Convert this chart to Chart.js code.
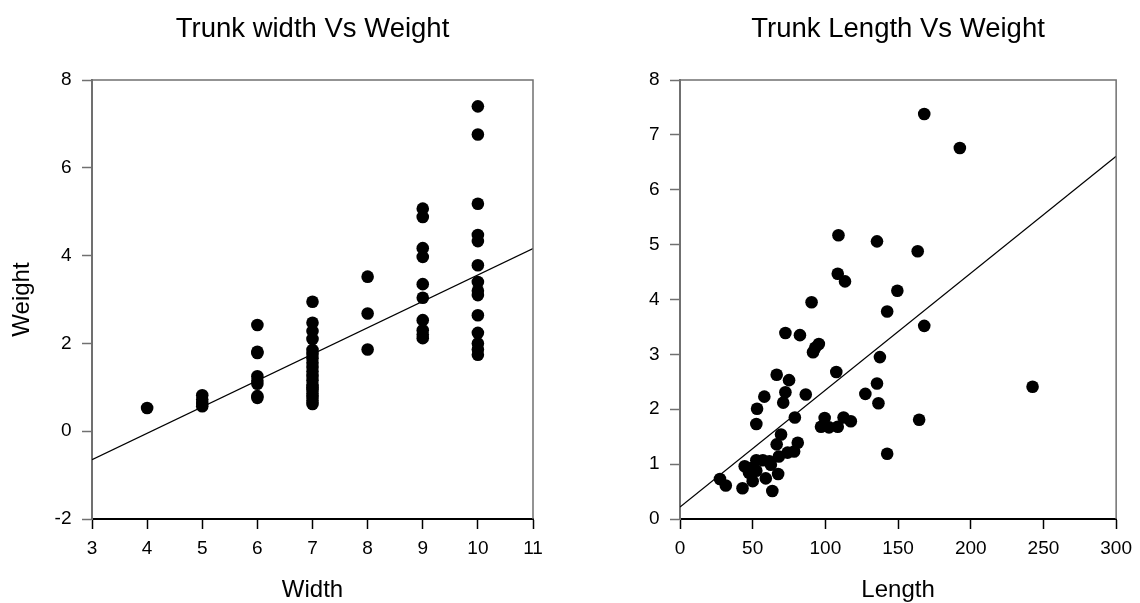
<!DOCTYPE html>
<html>
<head>
<meta charset="utf-8">
<script src="https://cdn.jsdelivr.net/npm/chart.js@4"></script>
<style>
  body { margin: 0; background: #fff; }
  .panel { position: absolute; top: 0; width: 570px; height: 603px; }
  #left-panel { left: 0; }
  #right-panel { left: 570px; }
</style>
</head>
<body>
<div class="panel" id="left-panel"><canvas id="widthChart" width="570" height="603"></canvas></div>
<div class="panel" id="right-panel"><canvas id="lengthChart" width="570" height="603"></canvas></div>
<script>
// Trunk width vs weight (paired)
const widthVals = [
  4,
  5, 5, 5, 5,
  6, 6, 6, 6, 6, 6, 6, 6,
  7, 7, 7, 7, 7, 7, 7, 7, 7, 7, 7, 7, 7, 7, 7, 7, 7, 7, 7,
  8, 8, 8,
  9, 9, 9, 9, 9, 9, 9, 9, 9, 9,
  10, 10, 10, 10, 10, 10, 10, 10, 10, 10, 10, 10, 10, 10
];
const widthWeights = [
  0.53,
  0.82, 0.72, 0.64, 0.57,
  2.42, 1.81, 1.78, 1.25, 1.15, 1.08, 0.80, 0.76,
  2.95, 2.47, 2.28, 2.10, 1.85, 1.76, 1.66, 1.56, 1.46, 1.36, 1.26, 1.16, 1.06, 1.00, 0.94, 0.86, 0.78, 0.70, 0.62,
  3.52, 2.68, 1.86,
  5.07, 4.88, 4.17, 3.97, 3.35, 3.04, 2.53, 2.30, 2.20, 2.12,
  7.40, 6.76, 5.18, 4.47, 4.33, 3.78, 3.40, 3.20, 3.10, 2.64, 2.24, 2.00, 1.86, 1.74
];
const widthFitX = [3, 11];
const widthFitY = [-0.65, 4.16];

// Trunk length vs weight (paired)
const lengthVals = [
  168, 192.5, 109, 135.5, 163.5, 108.5, 113.5, 149.5, 90.5, 142.5,
  168, 72.5, 82.5, 95.5, 93, 91.5, 137.5, 107.5, 66.5, 75,
  135.5, 72.5, 127.5, 86.5, 58, 71, 136.5, 242.5, 53, 79,
  99.5, 112.5, 117.5, 164.5, 52.5, 97, 102.5, 108.5, 69.5, 81,
  66.5, 142.5, 74, 78.5, 68, 61.5, 57, 52.5, 44.5, 49,
  62.5, 47.5, 52.5, 67.5, 27.5, 59, 31.5, 50, 43, 63.5
];
const lengthWeights = [
  7.38, 6.76, 5.17, 5.06, 4.88, 4.47, 4.33, 4.16, 3.95, 3.78,
  3.52, 3.39, 3.35, 3.19, 3.12, 3.04, 2.95, 2.68, 2.63, 2.53,
  2.47, 2.31, 2.28, 2.27, 2.23, 2.12, 2.11, 2.41, 2.01, 1.85,
  1.84, 1.85, 1.78, 1.81, 1.73, 1.68, 1.67, 1.68, 1.54, 1.39,
  1.36, 1.19, 1.21, 1.23, 1.14, 1.05, 1.07, 1.07, 0.96, 0.93,
  0.99, 0.84, 0.88, 0.82, 0.73, 0.74, 0.61, 0.69, 0.56, 0.51
];
const lengthFitX = [0, 300];
const lengthFitY = [0.22, 6.61];

const FONT = "'Liberation Sans', Arial, sans-serif";
const AXIS_GRAY = '#707070';

// top + right frame lines
const framePlugin = {
  id: 'frame',
  afterDraw(chart) {
    const { ctx, chartArea: a } = chart;
    ctx.save();
    ctx.strokeStyle = AXIS_GRAY;
    ctx.lineWidth = 1.5;
    ctx.beginPath();
    ctx.moveTo(a.left, a.top);
    ctx.lineTo(a.right, a.top);
    ctx.lineTo(a.right, a.bottom);
    ctx.stroke();
    ctx.restore();
  }
};

function pairs(xs, ys) {
  return xs.map((x, i) => ({ x: x, y: ys[i] }));
}

function makeChart(id, cfg) {
  const ctx = document.getElementById(id).getContext('2d');
  return new Chart(ctx, {
    type: 'scatter',
    data: {
      datasets: [
        {
          data: pairs(cfg.xs, cfg.ys),
          backgroundColor: '#000',
          borderWidth: 0,
          pointRadius: 6.3
        },
        {
          type: 'line',
          data: pairs(cfg.fitX, cfg.fitY),
          borderColor: '#000',
          borderWidth: 1.2,
          pointRadius: 0,
          fill: false
        }
      ]
    },
    options: {
      responsive: false,
      animation: false,
      layout: { padding: { top: 0, left: 0, bottom: 0, right: cfg.padRight } },
      plugins: {
        legend: { display: false },
        tooltip: { enabled: false },
        title: {
          display: true,
          text: cfg.title,
          fullSize: false,
          color: '#000',
          font: { family: FONT, size: 27.5, weight: 'normal', lineHeight: 1 },
          padding: { top: 16, bottom: 36.5 }
        }
      },
      scales: {
        x: {
          type: 'linear',
          min: cfg.xMin, max: cfg.xMax,
          afterFit: s => { s.height = 84; },
          ticks: { stepSize: cfg.xStep, color: '#000', padding: 8, autoSkip: false, maxRotation: 0,
                   font: { family: FONT, size: 19 } },
          grid: { drawOnChartArea: false, drawTicks: true, tickLength: 10, tickColor: '#000', tickWidth: 1.5 },
          border: { display: true, color: '#000', width: 2 },
          title: { display: true, text: cfg.xTitle, color: '#000', padding: { top: 0, bottom: 1 },
                   font: { family: FONT, size: 24, lineHeight: 1 } }
        },
        y: {
          type: 'linear',
          min: cfg.yMin, max: cfg.yMax,
          afterFit: s => { s.width = cfg.yWidth; },
          ticks: { stepSize: cfg.yStep, color: '#000', padding: 10.5, autoSkip: false,
                   font: { family: FONT, size: 19 } },
          grid: { drawOnChartArea: false, drawTicks: true, tickLength: 10, tickColor: AXIS_GRAY, tickWidth: 1.5 },
          border: { display: true, color: AXIS_GRAY, width: 2 },
          title: { display: !!cfg.yTitle, text: cfg.yTitle || '', color: '#000', padding: { top: 10.5, bottom: 0 },
                   font: { family: FONT, size: 24, lineHeight: 1 } }
        }
      }
    },
    plugins: [framePlugin]
  });
}

makeChart('widthChart', {
  xs: widthVals, ys: widthWeights, fitX: widthFitX, fitY: widthFitY,
  title: 'Trunk width Vs Weight', xTitle: 'Width', yTitle: 'Weight',
  xMin: 3, xMax: 11, xStep: 1, yMin: -2, yMax: 8, yStep: 2,
  yWidth: 92, padRight: 37
});

makeChart('lengthChart', {
  xs: lengthVals, ys: lengthWeights, fitX: lengthFitX, fitY: lengthFitY,
  title: 'Trunk Length Vs Weight', xTitle: 'Length', yTitle: null,
  xMin: 0, xMax: 300, xStep: 50, yMin: 0, yMax: 8, yStep: 1,
  yWidth: 110, padRight: 20
});
</script>
</body>
</html>
